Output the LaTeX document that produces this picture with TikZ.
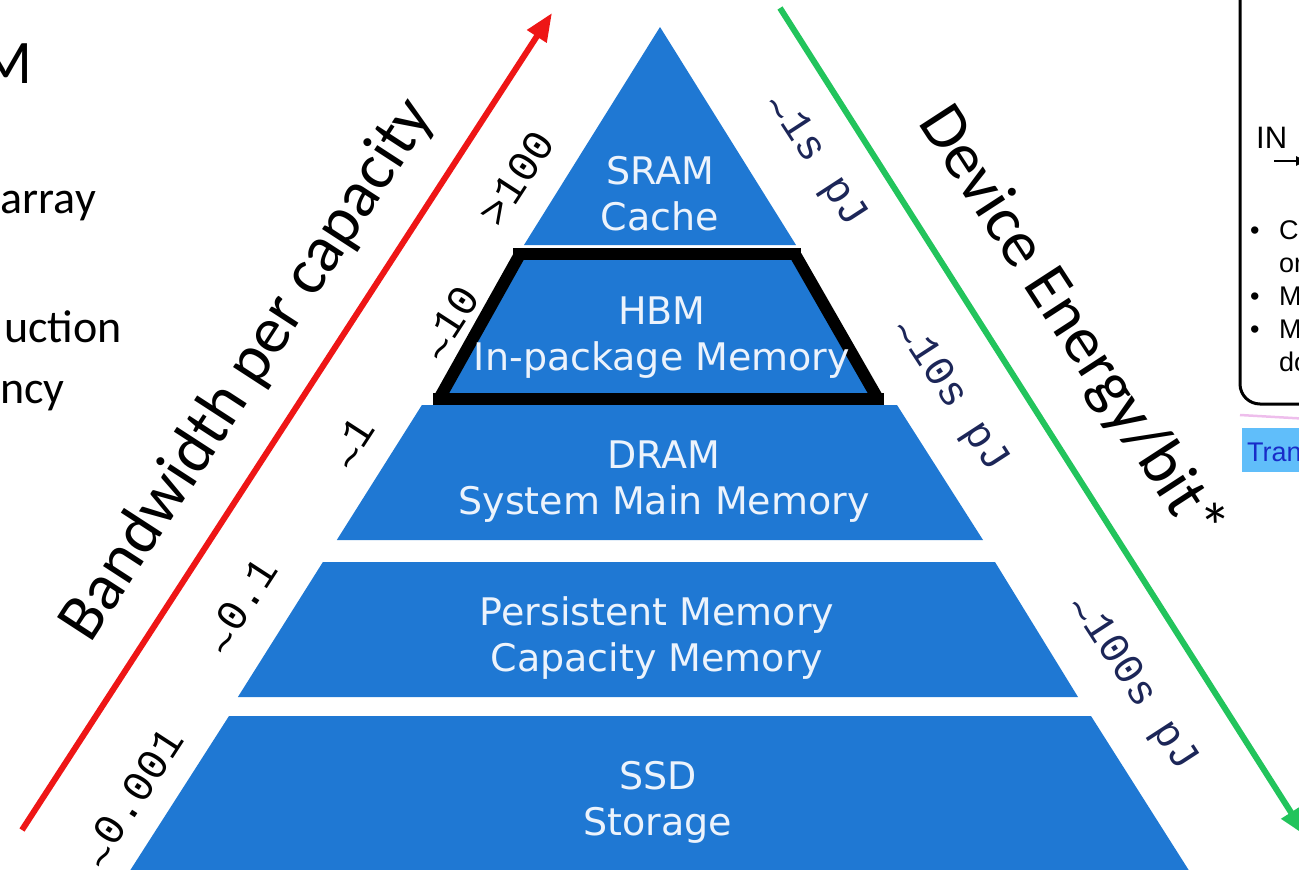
\documentclass[tikz,border=0pt]{standalone}
\usepackage{fontspec}
\setmainfont{Carlito}
\newfontfamily\tierfont{DejaVu Sans}
\newfontfamily\numfont{Liberation Mono}
\newfontfamily\panelfont{Liberation Sans}
\usetikzlibrary{arrows.meta}

\definecolor{tierblue}{RGB}{31,120,211}
\definecolor{tiertext}{RGB}{236,243,252}
\definecolor{pjnavy}{RGB}{28,38,88}
\definecolor{bwred}{RGB}{238,22,22}
\definecolor{engreen}{RGB}{34,196,92}
\definecolor{tranbg}{RGB}{96,190,250}
\definecolor{trantext}{RGB}{24,44,200}
\definecolor{pinkline}{RGB}{238,190,236}

% tilde set at mid height, as in the axis values
\newcommand{\approxmark}{\raisebox{-0.22em}{\textasciitilde}}

\tikzset{
  tier/.style={fill=tierblue},
  tierlabel/.style={text=tiertext, align=center, inner sep=0pt,
    font=\tierfont\fontsize{38}{46}\selectfont},
  bwnum/.style={text=black, inner sep=0pt, rotate=57,
    font=\numfont\fontsize{43}{43}\selectfont},
  pjnum/.style={text=pjnavy, inner sep=0pt, rotate=-57,
    font=\numfont\fontsize{42}{42}\selectfont},
  axislabel/.style={text=black, inner sep=0pt,
    font=\fontsize{66}{66}\selectfont},
  slidetext/.style={text=black, inner sep=0pt, anchor=base east,
    font=\fontsize{46}{46}\selectfont},
  hbmframe/.style={line width=12pt, black, line cap=butt},
  paneltext/.style={text=black, inner sep=0pt, anchor=base west,
    font=\panelfont\fontsize{27}{27}\selectfont},
}

\begin{document}
\begin{tikzpicture}[x=1pt,y=-1pt]
\useasboundingbox (0,0) rectangle (1299,870);

% ---- memory pyramid ----
\fill[tier] (660,27) -- (796,245) -- (524,245) -- cycle;
\fill[tier] (519,254) -- (796,254) -- (882,399) -- (434,399) -- cycle;
\fill[tier] (421.9,405) -- (897,405) -- (983,540) -- (336.8,540) -- cycle;
\fill[tier] (322.9,562) -- (995,562) -- (1078,697) -- (237.9,697) -- cycle;
\fill[tier] (229,716) -- (1091,716) -- (1195,880) -- (124,880) -- cycle;

% frame around the HBM tier
\draw[hbmframe] (513,254) -- (801,254);
\draw[hbmframe] (433,399) -- (884,399);
\draw[hbmframe] (519,256) -- (439,399);
\draw[hbmframe] (796,256) -- (878,399);

% tier captions
\node[tierlabel] (sram) at (660,194) {SRAM\\Cache};
\node[tierlabel] (hbm) at (662,338) {HBM\\In-package Memory};
\node[tierlabel] (dram) at (664,482) {DRAM\\System Main Memory};
\node[tierlabel] (pmem) at (657,638) {Persistent Memory\\Capacity Memory};
\node[tierlabel] (ssd) at (658,802) {SSD\\Storage};

% ---- bandwidth axis ----
\coordinate (bwFrom) at (22,830);
\coordinate (bwTo) at (552,13);
\draw[bwred, line width=6pt, -{Triangle[length=28pt,width=22pt]}] (bwFrom) -- (bwTo);
\node[axislabel, rotate=57] (bwlabel) at (248,370) {Bandwidth per capacity};

\node[bwnum] (bw1) at (517,178) {>100};
\node[bwnum] (bw2) at (452,325) {\approxmark10};
\node[bwnum] (bw3) at (355,445) {\approxmark1};
\node[bwnum] (bw4) at (243,608) {\approxmark0.1};
\node[bwnum] (bw5) at (135,800) {\approxmark0.001};

% ---- energy axis ----
\coordinate (enFrom) at (780,8);
\coordinate (enTo) at (1306,836);
\draw[engreen, line width=6pt, -{Triangle[length=28pt,width=22pt]}] (enFrom) -- (enTo);
\node[axislabel, rotate=-57] (enlabel) at (1070,325) {Device Energy/bit*};

\node[pjnum] (pj1) at (815,160) {\approxmark1s pJ};
\node[pjnum] (pj2) at (950,395) {\approxmark10s pJ};
\node[pjnum] (pj3) at (1132,683) {\approxmark100s pJ};

% ---- slide text on the left ----
\node[slidetext, font=\fontsize{62}{62}\selectfont] (tM) at (33,83) {M};
\node[slidetext] (t1) at (96,213) {array};
\node[slidetext] (t2) at (122,342) {uction};
\node[slidetext] (t3) at (65,403) {ncy};

% ---- panel on the right ----
\draw[line width=3pt, rounded corners=20pt] (1240,-20) -- (1240,404) -- (1330,404);
\node[paneltext, font=\panelfont\fontsize{31}{31}\selectfont] (pin) at (1256,148) {IN};
\coordinate (inTip) at (1306,161);
\draw[line width=2.5pt, -{Triangle[length=10pt,width=9pt]}] (1274,161) -- (inTip);
\node[paneltext] (b1) at (1250,239) {•};
\node[paneltext] (p1) at (1279,239) {C};
\node[paneltext] (p2) at (1279,272) {or};
\node[paneltext] (b3) at (1250,305) {•};
\node[paneltext] (p3) at (1279,305) {M};
\node[paneltext] (b4) at (1250,338) {•};
\node[paneltext] (p4) at (1279,338) {M};
\node[paneltext] (p5) at (1279,371) {do};

\draw[pinkline, line width=2.5pt] (1240,415) -- (1310,419);
\fill[tranbg] (1242,428) rectangle (1310,472);
\node[paneltext, text=trantext] (tran) at (1247,461) {Tran};
\end{tikzpicture}
\end{document}
